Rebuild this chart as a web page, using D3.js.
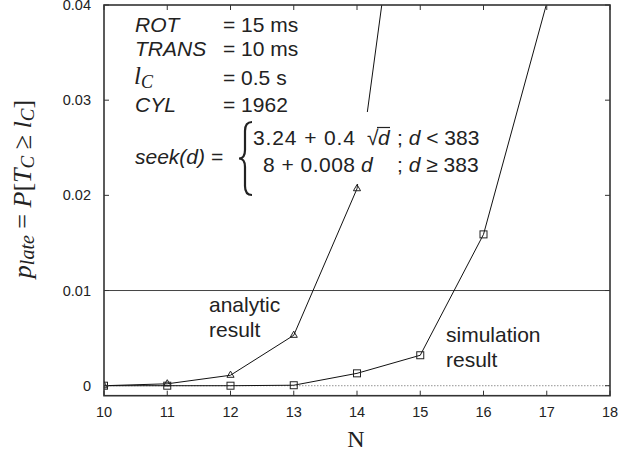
<!DOCTYPE html>
<html>
<head>
<meta charset="utf-8">
<script src="https://cdn.jsdelivr.net/npm/d3@7"></script>
<style>
  body { margin: 0; background: #fff; }
  svg { display: block; }
  .sans { font-family: "Liberation Sans", Arial, sans-serif; }
  .serif { font-family: "Liberation Serif", "Times New Roman", serif; }
</style>
</head>
<body>
<svg id="chart" width="633" height="454"></svg>
<script>
// data
const nValues = [10, 11, 12, 13, 14, 15, 16, 17];
const analytic = [0, 0.0002, 0.0011, 0.0053, 0.0207, 0.07];
const simulation = [0, 0, 0, 0.00005, 0.0013, 0.0032, 0.0159, 0.0402];
const xTicks = [10, 11, 12, 13, 14, 15, 16, 17, 18];
const yTicks = [0, 0.01, 0.02, 0.03, 0.04];
const threshold = 0.01;

const svg = d3.select("#chart");
const plot = { left: 104, right: 610, top: 5, bottom: 395.7 };

const x = d3.scaleLinear().domain([10, 18]).range([plot.left, plot.right]);
const y = d3.scaleLinear().domain([-0.00105, 0.04]).range([plot.bottom, plot.top]);

svg.append("clipPath").attr("id", "clip")
  .append("rect")
  .attr("x", plot.left).attr("y", plot.top)
  .attr("width", plot.right - plot.left).attr("height", plot.bottom - plot.top);

// zero line (dotted) and threshold line
svg.append("line")
  .attr("x1", plot.left).attr("x2", plot.right)
  .attr("y1", y(0)).attr("y2", y(0))
  .attr("stroke", "#777").attr("stroke-width", 0.8).attr("stroke-dasharray", "1.5,1.5");
svg.append("line")
  .attr("x1", plot.left).attr("x2", plot.right)
  .attr("y1", y(threshold)).attr("y2", y(threshold))
  .attr("stroke", "#444").attr("stroke-width", 1);

const line = d3.line().x(d => x(d[0])).y(d => y(d[1]));
const series = [
  { name: "analytic", values: analytic.map((v, i) => [nValues[i], v]), marker: "tri" },
  { name: "simulation", values: simulation.map((v, i) => [nValues[i], v]), marker: "sq" }
];

const g = svg.append("g").attr("clip-path", "url(#clip)");
series.forEach(s => {
  g.append("path")
    .attr("d", line(s.values))
    .attr("fill", "none").attr("stroke", "#111").attr("stroke-width", 1);
  const pts = s.values.filter(d => d[1] <= 0.04);
  if (s.marker === "sq") {
    g.selectAll(null).data(pts).enter().append("rect")
      .attr("x", d => x(d[0]) - 3.5).attr("y", d => y(d[1]) - 3.5)
      .attr("width", 7).attr("height", 7)
      .attr("fill", "none").attr("stroke", "#222").attr("stroke-width", 1);
  } else {
    const tri = d3.symbol().type(d3.symbolTriangle).size(22);
    g.selectAll(null).data(pts).enter().append("path")
      .attr("d", tri)
      .attr("transform", d => `translate(${x(d[0])},${y(d[1])})`)
      .attr("fill", "none").attr("stroke", "#222").attr("stroke-width", 1);
  }
});

// frame
svg.append("rect")
  .attr("x", plot.left).attr("y", plot.top)
  .attr("width", plot.right - plot.left).attr("height", plot.bottom - plot.top)
  .attr("fill", "none").attr("stroke", "#333").attr("stroke-width", 1.6);

// ticks, all pointing inward
const tk = 5;
xTicks.forEach(t => {
  svg.append("line").attr("x1", x(t)).attr("x2", x(t))
    .attr("y1", plot.bottom).attr("y2", plot.bottom - tk).attr("stroke", "#333");
  svg.append("line").attr("x1", x(t)).attr("x2", x(t))
    .attr("y1", plot.top).attr("y2", plot.top + tk).attr("stroke", "#333");
  svg.append("text").attr("class", "sans")
    .attr("x", x(t)).attr("y", 417)
    .attr("text-anchor", "middle").attr("font-size", 14.5).attr("fill", "#222")
    .text(t);
});
yTicks.forEach(t => {
  svg.append("line").attr("y1", y(t)).attr("y2", y(t))
    .attr("x1", plot.left).attr("x2", plot.left + tk).attr("stroke", "#333");
  svg.append("line").attr("y1", y(t)).attr("y2", y(t))
    .attr("x1", plot.right).attr("x2", plot.right - tk).attr("stroke", "#333");
  svg.append("text").attr("class", "sans")
    .attr("x", 91).attr("y", y(t) + 5)
    .attr("text-anchor", "end").attr("font-size", 14.5).attr("fill", "#222")
    .text(t === 0 ? "0" : d3.format(".2f")(t));
});

// axis titles
svg.append("text").attr("class", "serif")
  .attr("x", 356).attr("y", 447).attr("text-anchor", "middle")
  .attr("font-size", 24).attr("fill", "#222").text("N");

const yl = svg.append("text").attr("class", "serif")
  .attr("transform", "translate(31,189) rotate(-90)")
  .attr("text-anchor", "middle").attr("font-size", 26).attr("fill", "#222");
yl.append("tspan").attr("font-style", "italic").text("p");
yl.append("tspan").attr("font-style", "italic").attr("font-size", 20).attr("dy", 3).text("late");
yl.append("tspan").attr("dy", -3).text(" = ");
yl.append("tspan").attr("font-style", "italic").text("P");
yl.append("tspan").text("[");
yl.append("tspan").attr("font-style", "italic").text("T");
yl.append("tspan").attr("font-style", "italic").attr("font-size", 19).attr("dy", 3).text("C");
yl.append("tspan").attr("dy", -3).text(" \u2265 ");
yl.append("tspan").attr("font-style", "italic").text("l");
yl.append("tspan").attr("font-style", "italic").attr("font-size", 19).attr("dy", 3).text("C");
yl.append("tspan").attr("dy", -3).text("]");

// parameter block
const params = [
  { name: "ROT", value: "= 15 ms", y: 31.5 },
  { name: "TRANS", value: "= 10 ms", y: 56 },
  { name: "lC", value: "= 0.5 s", y: 85 },
  { name: "CYL", value: "= 1962", y: 111.5 }
];
params.forEach(p => {
  if (p.name === "lC") {
    const t = svg.append("text").attr("class", "serif")
      .attr("x", 134).attr("y", 84).attr("font-size", 25)
      .attr("font-style", "italic").attr("fill", "#222");
    t.append("tspan").text("l");
    t.append("tspan").attr("font-size", 18).attr("dy", 4).text("C");
  } else {
    svg.append("text").attr("class", "sans")
      .attr("x", 135).attr("y", p.y).attr("font-size", 21)
      .attr("font-style", "italic").attr("fill", "#222").text(p.name);
  }
  svg.append("text").attr("class", "sans")
    .attr("x", 223).attr("y", p.y).attr("font-size", 21)
    .attr("fill", "#222").text(p.value);
});

// seek formula, on a white box that hides the curve behind it
svg.append("rect").attr("x", 236).attr("y", 112).attr("width", 258).attr("height", 72)
  .attr("fill", "#fff");
svg.append("text").attr("class", "sans")
  .attr("x", 135).attr("y", 164).attr("font-size", 21)
  .attr("font-style", "italic").attr("fill", "#222").text("seek(d) =");
svg.append("path")
  .attr("d", "M252,122 Q245,122 245,131 L245,150 Q245,158.5 239,158.5 Q245,158.5 245,167 L245,186 Q245,195 252,195")
  .attr("fill", "none").attr("stroke", "#222").attr("stroke-width", 2.2);

const f1 = 145, f2 = 172;
svg.append("text").attr("class", "sans").attr("x", 253).attr("y", f1)
  .attr("font-size", 21).attr("fill", "#222").attr("textLength", 102).text("3.24 + 0.4");
svg.append("text").attr("class", "sans").attr("x", 367).attr("y", f1)
  .attr("font-size", 21).attr("fill", "#222").text("\u221A");
svg.append("line").attr("x1", 377).attr("x2", 390).attr("y1", 127.5).attr("y2", 127.5)
  .attr("stroke", "#222").attr("stroke-width", 1.2);
svg.append("text").attr("class", "sans").attr("x", 378).attr("y", f1)
  .attr("font-size", 21).attr("font-style", "italic").attr("fill", "#222").text("d");
const c1 = svg.append("text").attr("class", "sans").attr("x", 397).attr("y", f1)
  .attr("font-size", 21).attr("fill", "#222");
c1.append("tspan").text("; ");
c1.append("tspan").attr("font-style", "italic").text("d");
c1.append("tspan").text(" < 383");

svg.append("text").attr("class", "sans").attr("x", 263).attr("y", f2)
  .attr("font-size", 21).attr("fill", "#222").attr("textLength", 92).text("8 + 0.008");
svg.append("text").attr("class", "sans").attr("x", 361).attr("y", f2)
  .attr("font-size", 21).attr("font-style", "italic").attr("fill", "#222").text("d");
const c2 = svg.append("text").attr("class", "sans").attr("x", 397).attr("y", f2)
  .attr("font-size", 21).attr("fill", "#222");
c2.append("tspan").text("; ");
c2.append("tspan").attr("font-style", "italic").text("d");
c2.append("tspan").text(" \u2265 383");

// curve labels
[["analytic", 209, 311.5], ["result", 209, 336.5], ["simulation", 446, 341.5], ["result", 446, 366.5]]
  .forEach(([t, lx, ly]) => {
    svg.append("text").attr("class", "sans").attr("x", lx).attr("y", ly)
      .attr("font-size", 21).attr("fill", "#222").text(t);
  });
</script>
</body>
</html>
